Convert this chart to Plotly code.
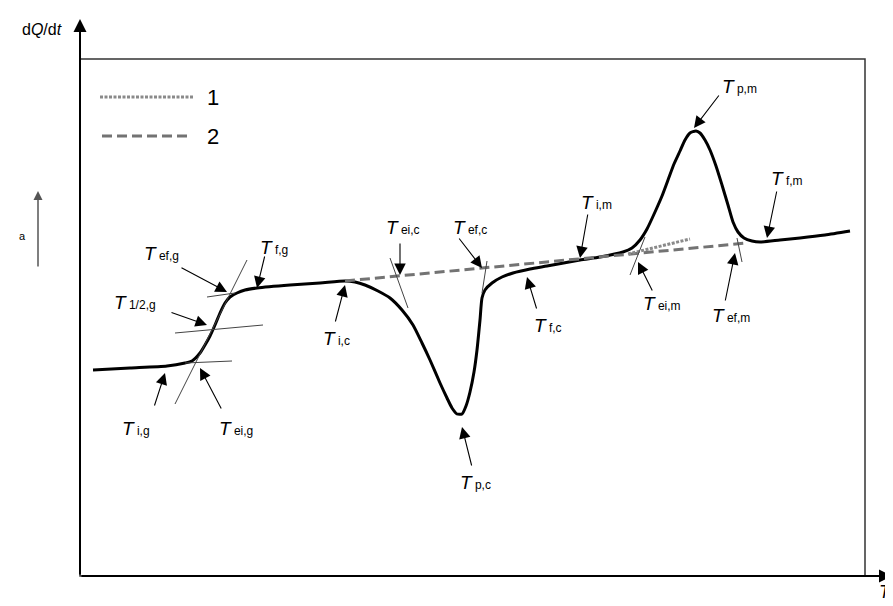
import plotly.graph_objects as go

# ---- data (schematic DSC curve, arbitrary units: T along x, dQ/dt along y) ----
T_curve = [93, 130, 167, 185, 192, 200, 205, 210, 215, 220, 225, 230, 237, 245, 257,
           290, 320, 345, 355, 365, 378, 390, 402, 413, 422, 430, 440, 447, 452, 457,
           462, 466, 470, 474, 477, 480, 482, 485, 492, 502, 513, 530, 547, 580, 600,
           623, 632, 640, 647, 655, 662, 668, 674, 680, 685, 690, 696, 700, 705, 710,
           716, 722, 728, 733, 738, 744, 752, 760, 780, 800, 825, 850]
Q_curve = [236, 238, 240, 243, 245, 253, 261, 270, 281, 293, 303, 309, 313, 316, 318,
           321, 323, 325, 324, 321, 315, 308, 296, 281, 263, 246, 223, 208, 198, 192,
           192, 200, 214, 234, 256, 286, 308, 316, 323, 329, 333, 337, 340, 346, 349,
           354, 358, 366, 377, 394, 410, 426, 442, 455, 466, 473, 475, 473, 466, 456,
           440, 421, 401, 384, 374, 368, 365, 364, 366, 368, 371, 375]

# series 1: extrapolated baseline (dotted), series 2: virtual baseline (dashed)
T_base1 = [628, 690]
Q_base1 = [352, 367]
T_base2 = [345, 747]
Q_base2 = [325, 363]

# construction (tangent) lines: (T0, Q0, T1, Q1)
tangents = [
    (185, 243, 232, 245), (175, 202, 247, 346), (175, 273, 263, 281), (207, 309, 235, 313),
    (390, 348, 408, 298), (487, 345, 482, 313),
    (630, 331, 645, 369), (737, 368, 742, 344),
]

# characteristic temperature labels: (text, label T, label Q, arrow tail T, tail Q, head T, head Q)
labels = [
    ("i,g", 136, 178, 154, 199, 165, 233),
    ("ei,g", 236, 178, 222, 196, 200, 238),
    ("1/2,g", 135, 304, 170, 294, 207, 281),
    ("ef,g", 161, 353, 180, 339, 227, 314),
    ("f,g", 274, 359, 265, 351, 257, 318),
    ("i,c", 336, 268, 335, 283, 345, 321),
    ("ei,c", 403, 379, 400, 364, 400, 331),
    ("ef,c", 470, 379, 458, 369, 482, 338),
    ("p,c", 475, 124, 472, 139, 462, 179),
    ("f,c", 548, 281, 537, 296, 527, 329),
    ("i,m", 596, 404, 588, 393, 580, 348),
    ("p,m", 739, 520, 720, 512, 694, 478),
    ("f,m", 787, 428, 777, 416, 767, 368),
    ("ei,m", 662, 303, 653, 314, 638, 344),
    ("ef,m", 731, 291, 725, 304, 735, 353),
]

legend_names = ["1", "2"]

FONT = "Liberation Sans, Arial, sans-serif"

fig = go.Figure()

fig.add_trace(go.Scatter(x=T_curve, y=Q_curve, mode="lines",
                         line=dict(color="black", width=3, shape="spline", smoothing=0.6),
                         hoverinfo="skip", showlegend=False))
fig.add_trace(go.Scatter(x=T_base2, y=Q_base2, mode="lines",
                         line=dict(color="#737373", width=3, dash="10px,5px"),
                         hoverinfo="skip", showlegend=False))
fig.add_trace(go.Scatter(x=T_base1, y=Q_base1, mode="lines",
                         line=dict(color="#8a8a8a", width=3, dash="3px,1.5px"),
                         hoverinfo="skip", showlegend=False))

for (t0, q0, t1, q1) in tangents:
    fig.add_trace(go.Scatter(x=[t0, t1], y=[q0, q1], mode="lines",
                             line=dict(color="#444444", width=1),
                             hoverinfo="skip", showlegend=False))

# manual legend
fig.add_trace(go.Scatter(x=[100, 193], y=[509, 509], mode="lines",
                         line=dict(color="#8a8a8a", width=3, dash="3px,1.5px"),
                         hoverinfo="skip", showlegend=False))
fig.add_trace(go.Scatter(x=[102, 190], y=[470, 470], mode="lines",
                         line=dict(color="#737373", width=3, dash="10px,5px"),
                         hoverinfo="skip", showlegend=False))
for name, q in zip(legend_names, [509, 470]):
    fig.add_annotation(x=205, y=q, text=name, showarrow=False, xanchor="left",
                       font=dict(family=FONT, size=22, color="black"))

# frame
fig.add_shape(type="rect", x0=80, y0=30, x1=865, y1=547,
              line=dict(color="#333333", width=1.5))

# axes with arrows
fig.add_annotation(x=80, y=587, ax=80, ay=30, axref="x", ayref="y", xref="x", yref="y",
                   text="", showarrow=True, arrowhead=2, arrowsize=1.3, arrowwidth=2,
                   arrowcolor="black", standoff=0)
fig.add_annotation(x=892, y=30, ax=80, ay=30, axref="x", ayref="y", xref="x", yref="y",
                   text="", showarrow=True, arrowhead=2, arrowsize=1.3, arrowwidth=2,
                   arrowcolor="black", standoff=0)
fig.add_annotation(x=42, y=577, text="d<i>Q</i>/d<i>t</i>", showarrow=False,
                   font=dict(family=FONT, size=16, color="black"))
fig.add_annotation(x=885, y=2, text="<i>T</i>", showarrow=False, yanchor="bottom",
                   font=dict(family=FONT, size=18, color="black"))

# "a" direction arrow
fig.add_annotation(x=38, y=415, ax=38, ay=338, axref="x", ayref="y", xref="x", yref="y",
                   text="", showarrow=True, arrowhead=2, arrowsize=1.2, arrowwidth=1.5,
                   arrowcolor="#555555", standoff=0)
fig.add_annotation(x=22, y=370, text="a", showarrow=False,
                   font=dict(family=FONT, size=11, color="black"))

# characteristic temperatures
for sub, lx, lq, tx, tq, hx, hq in labels:
    fig.add_annotation(x=hx, y=hq, ax=tx, ay=tq, axref="x", ayref="y", xref="x", yref="y",
                       text="", showarrow=True, arrowhead=2, arrowsize=2.1, arrowwidth=1.1,
                       arrowcolor="black", standoff=0)
    fig.add_annotation(x=lx, y=lq, text="<i>T</i><span style='font-size:12px'> " + sub + "</span>",
                       showarrow=False, font=dict(family=FONT, size=19, color="black"))

# the page body has an 8px margin, so shift the ranges to keep page pixels aligned
fig.update_layout(
    width=893, height=606,
    margin=dict(l=0, r=0, t=0, b=0),
    paper_bgcolor="white", plot_bgcolor="white",
    xaxis=dict(range=[8, 901], visible=False, fixedrange=True),
    yaxis=dict(range=[-8, 598], visible=False, fixedrange=True),
    showlegend=False,
)

fig.write_html("out.html")
